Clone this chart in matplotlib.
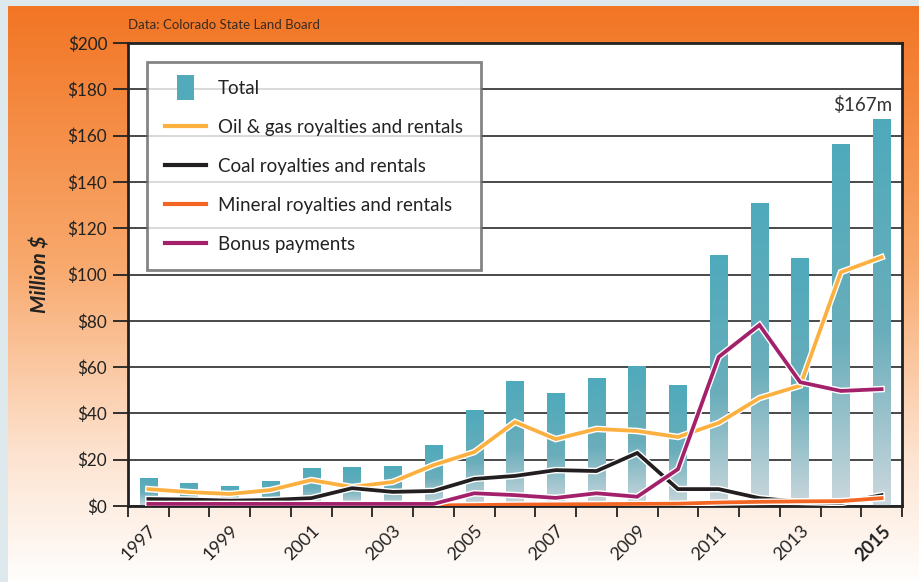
import numpy as np
import matplotlib
matplotlib.use("Agg")
import matplotlib.pyplot as plt
import matplotlib.patheffects as pe
from matplotlib.colors import LinearSegmentedColormap
from matplotlib.patches import Rectangle, Patch
from matplotlib.lines import Line2D
from matplotlib.legend_handler import HandlerPatch

plt.rcParams['font.family'] = ['Lato', 'DejaVu Sans']

years = list(range(1997, 2016))
total = [12.2, 10, 8.6, 10.8, 16.4, 16.8, 17.3, 26.4, 41.5, 54.2,
         48.8, 55.3, 60.5, 52.3, 108.4, 130.9, 107, 156.4, 167]
oil_gas = [7.3, 6, 5.2, 6.9, 11.2, 8.2, 10.4, 17.7, 23.3, 36.3,
           28.9, 33.3, 32.4, 29.8, 35.9, 46.6, 52, 101, 107.5]
coal = [3, 2.8, 2.3, 2.6, 3.4, 7.7, 6.1, 6.5, 11.7, 13,
        15.5, 15.1, 22.9, 7.3, 7.3, 3.4, 1.8, 1.3, 4.7]
mineral = [0.3, 0.3, 0.3, 0.3, 0.3, 0.3, 0.3, 0.3, 0.4, 0.6,
           0.7, 0.8, 0.9, 1.0, 1.5, 1.8, 2.0, 2.1, 3.4]
bonus = [0.9, 0.9, 0.9, 0.9, 0.9, 0.9, 0.9, 0.9, 5.5, 4.7,
         3.5, 5.5, 4.0, 15.9, 64.4, 78.2, 53.5, 49.7, 50.5]

series = [
    (oil_gas, '#fbb040', 'Oil & gas royalties and rentals'),
    (coal, '#231f20', 'Coal royalties and rentals'),
    (mineral, '#f26522', 'Mineral royalties and rentals'),
    (bonus, '#a3206a', 'Bonus payments'),
]

fig = plt.figure(figsize=(9.2, 5.82), dpi=100)
fig.patch.set_facecolor('#dde9ed')

# orange gradient panel behind everything
bg = fig.add_axes([0, 0, 1, 1], zorder=-5)
bg.set_xlim(0, 1)
bg.set_ylim(0, 1)
bg.axis('off')
bg_cmap = LinearSegmentedColormap.from_list(
    'bg', [(0, '#fffefd'), (0.22, '#fde3d0'), (0.55, '#f8a96d'), (1, '#f27524')])
grad = np.linspace(0, 1, 256).reshape(-1, 1)
bg.imshow(grad, extent=[8 / 920, 1, 0, 1 - 6 / 582], origin='lower',
          cmap=bg_cmap, aspect='auto')

ax = fig.add_axes([128 / 920, 1 - 506 / 582, 774 / 920, 463 / 582])
ax.set_facecolor('white')

x = np.arange(len(years))
bar_cmap = LinearSegmentedColormap.from_list(
    'bar', [(0, '#ccd8dd'), (0.45, '#6aaebb'), (1, '#4eaabb')])
bars = ax.bar(x, total, width=0.43, color='none', edgecolor='none', zorder=2)
for b in bars:
    x0 = b.get_x()
    h = b.get_height()
    im = ax.imshow(grad, extent=[x0, x0 + b.get_width(), 0, h], origin='lower',
                   cmap=bar_cmap, aspect='auto', zorder=2)
    im.set_clip_path(b)

for vals, col, lab in series:
    ax.plot(x, vals, color=col, lw=2.7, zorder=4, solid_joinstyle='miter',
            path_effects=[pe.Stroke(linewidth=4.7, foreground='white'), pe.Normal()])

ax.set_xlim(-0.5, len(years) - 0.5)
ax.set_ylim(0, 200)

ax.set_yticks(np.arange(0, 201, 20))
ax.set_yticklabels(['$%d' % v for v in range(0, 201, 20)])
ax.yaxis.grid(True, color='#3a3a3a', lw=1.3)
ax.set_axisbelow(True)
ax.tick_params(axis='y', length=11, width=1.3, pad=4, labelsize=12.3, colors='#222222')

ax.set_xticks(x[::2])
lbls = [str(y) for y in years[::2]]
ax.set_xticklabels(lbls, rotation=45, ha='right', va='top', rotation_mode='anchor')
ax.get_xticklabels()[-1].set_fontweight('bold')
ax.set_xticks(np.arange(-0.5, len(years), 1), minor=True)
ax.tick_params(axis='x', which='major', length=0, pad=12, labelsize=13, colors='#222222')
ax.tick_params(axis='x', which='minor', length=8, width=1.3, color='#222222')

for s in ax.spines.values():
    s.set_color('#222222')
    s.set_linewidth(2)

ax.set_ylabel('Million $', fontsize=15, fontweight='bold', style='italic',
              color='#222222', labelpad=12)

ax.annotate('$167m', xy=(x[-1] + 0.27, total[-1]), xytext=(0, 4),
            textcoords='offset points', ha='right', va='bottom',
            fontsize=13.5, color='#333333')

fig.text(128 / 920, 1 - 25 / 582, 'Data: Colorado State Land Board',
         fontsize=9.5, color='#3a2a20', va='center', ha='left')


def narrow_rect(legend, orig_handle, xdescent, ydescent, width, height, fontsize):
    return Rectangle((-xdescent + width * 0.3, -ydescent - height * 0.45),
                     width * 0.42, height * 1.9)


handles = [Patch(facecolor='#52abba', edgecolor='none')]
handles += [Line2D([], [], color=c, lw=3) for _, c, _ in series]
labels = ['Total'] + [l for _, _, l in series]
leg = ax.legend(handles, labels, loc='upper left', bbox_to_anchor=(0.0245, 0.959),
                borderaxespad=0, fontsize=13.5, handlelength=2.2, handletextpad=0.65,
                labelspacing=1.17, borderpad=0.95, fancybox=False, framealpha=0.8,
                edgecolor='#666666', handler_map={Patch: HandlerPatch(patch_func=narrow_rect)})
leg.get_frame().set_linewidth(2)
leg.set_zorder(10)
for t in leg.get_texts():
    t.set_color('#222222')

fig.savefig('out.png', dpi=100, facecolor=fig.get_facecolor())
